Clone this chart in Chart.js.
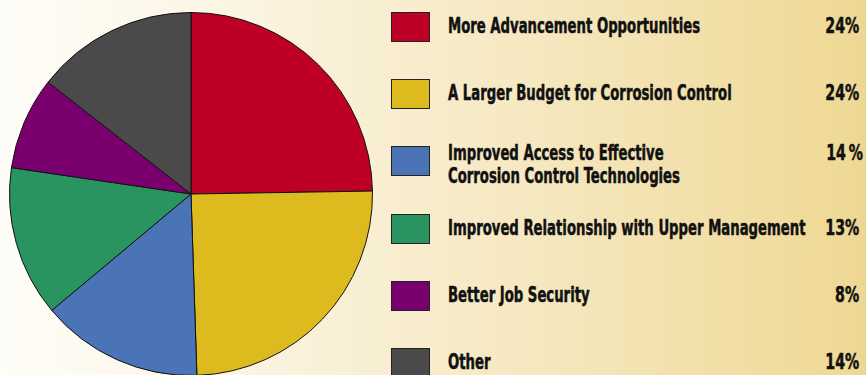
<!DOCTYPE html>
<html>
<head>
<meta charset="utf-8">
<script src="https://cdn.jsdelivr.net/npm/chart.js@4"></script>
<style>
  html, body { margin: 0; padding: 0; }
  body {
    width: 866px; height: 375px; overflow: hidden; position: relative;
    background: linear-gradient(to right, #fefdf8 0%, #fcf6e6 23%, #f8edcf 46%, #f4e5b8 69%, #efd996 98%, #eed592 100%);
    font-family: "DejaVu Sans Condensed", "DejaVu Sans", sans-serif;
  }
  #pieWrap { position: absolute; left: 9px; top: 12px; width: 364px; height: 364px; }
  .row { position: absolute; left: 391px; width: 468px; height: 30px; }
  .box { position: absolute; left: 0; top: 0; width: 37px; height: 28px; border: 1px solid #222; }
  .lbl, .pct {
    position: absolute; top: 3px; font-weight: 700; font-size: 21px; line-height: 23px;
    color: #111; white-space: pre; -webkit-text-stroke: 0.5px #111;
  }
  .lbl { left: 57px; transform: scaleX(0.70); transform-origin: left top; }
  .pct { right: 0; transform: scaleX(0.75); transform-origin: right top; }
  .multi .lbl, .multi .pct { top: -4px; }
  .multi .pct { right: -4px; }
</style>
</head>
<body>
<div id="pieWrap"><canvas id="pieChart" width="364" height="364"></canvas></div>
<div id="legend"></div>
<script>
// dados do gráfico
const categorias = [
  'More Advancement Opportunities',
  'A Larger Budget for Corrosion Control',
  'Improved Access to Effective\nCorrosion Control Technologies',
  'Improved Relationship with Upper Management',
  'Better Job Security',
  'Other'
];
const valores = [24, 24, 14, 13, 8, 14];
const rotulosPct = ['24%', '24%', '14\u2009%', '13%', '8%', '14%'];
const cores = ['#be0027', '#ddbb1f', '#4a74b6', '#2a9461', '#7a0070', '#4a4a4a'];

// legenda (HTML)
const legenda = document.getElementById('legend');
categorias.forEach((cat, i) => {
  const row = document.createElement('div');
  row.className = 'row' + (cat.includes('\n') ? ' multi' : '');
  row.style.top = (12 + Math.round(i * 67.2)) + 'px';
  row.innerHTML = `<div class="box" style="background:${cores[i]}"></div>` +
    `<div class="lbl"></div><div class="pct">${rotulosPct[i]}</div>`;
  row.querySelector('.lbl').textContent = cat;
  legenda.appendChild(row);
});

// gráfico de pizza
const ctx = document.getElementById('pieChart').getContext('2d');
new Chart(ctx, {
  type: 'pie',
  data: {
    labels: categorias,
    datasets: [{
      data: valores,
      backgroundColor: cores,
      borderColor: '#111',
      borderWidth: 1,
      hoverOffset: 0
    }]
  },
  options: {
    responsive: false,
    animation: false,
    layout: { padding: 0 },
    plugins: {
      legend: { display: false },
      tooltip: { enabled: false }
    }
  }
});
</script>
</body>
</html>
